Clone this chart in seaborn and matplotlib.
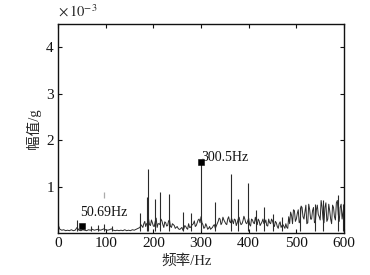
import numpy as np
import pandas as pd
import matplotlib
matplotlib.use("Agg")
import matplotlib.pyplot as plt
import seaborn as sns

# ---- data (amplitude in 1e-3 g) ----
base_freq = [0, 4, 8, 12, 16, 20, 24, 28, 32, 36, 40, 44, 48, 52, 56, 60, 64, 68, 72, 76,
             80, 84, 88, 92, 96, 100, 104, 108, 112, 116, 120, 124, 128, 132, 136, 140, 144, 148, 152, 156,
             160, 164, 168, 172, 176, 180, 184, 188, 192, 196, 200, 204, 208, 212, 216, 220, 224, 228, 232, 236,
             240, 244, 248, 252, 256, 260, 264, 268, 272, 276, 280, 284, 288, 292, 296, 300, 304, 308, 312, 316,
             320, 324, 328, 332, 336, 340, 344, 348, 352, 356, 360, 364, 368, 372, 376, 380, 384, 388, 392, 396,
             400, 404, 408, 412, 416, 420, 424, 428, 432, 436, 440, 444, 448, 452, 456, 460, 464, 468, 472, 476,
             480, 484, 488, 492, 496, 500, 504, 508, 512, 516, 520, 524, 528, 532, 536, 540, 544, 548, 552, 556,
             560, 564, 568, 572, 576, 580, 584, 588, 592, 596, 600]
base_amp = [0.18, 0.08, 0.06, 0.07, 0.05, 0.06, 0.05, 0.07, 0.05, 0.06, 0.12, 0.06, 0.05, 0.07, 0.06, 0.05, 0.07, 0.06, 0.08, 0.06,
            0.07, 0.08, 0.06, 0.07, 0.09, 0.07, 0.06, 0.07, 0.09, 0.06, 0.05, 0.06, 0.05, 0.06, 0.05, 0.07, 0.05, 0.06, 0.05, 0.07,
            0.06, 0.08, 0.10, 0.12, 0.15, 0.20, 0.14, 0.22, 0.18, 0.28, 0.15, 0.25, 0.12, 0.20, 0.30, 0.18, 0.24, 0.15, 0.26, 0.14,
            0.20, 0.16, 0.12, 0.10, 0.08, 0.12, 0.09, 0.14, 0.08, 0.12, 0.16, 0.20, 0.14, 0.22, 0.30, 0.35, 0.18, 0.12, 0.15, 0.10,
            0.08, 0.12, 0.18, 0.15, 0.25, 0.30, 0.22, 0.28, 0.20, 0.30, 0.25, 0.32, 0.20, 0.28, 0.22, 0.34, 0.18, 0.26, 0.30, 0.20,
            0.32, 0.15, 0.28, 0.20, 0.25, 0.30, 0.16, 0.24, 0.20, 0.28, 0.15, 0.22, 0.30, 0.18, 0.25, 0.14, 0.20, 0.12, 0.18, 0.10,
            0.12, 0.35, 0.45, 0.20, 0.48, 0.30, 0.50, 0.25, 0.55, 0.30, 0.60, 0.22, 0.50, 0.30, 0.55, 0.25, 0.60, 0.35, 0.70, 0.30,
            0.55, 0.25, 0.62, 0.30, 0.60, 0.35, 0.65, 0.40, 0.55, 0.30, 0.60]

mid_freq = [174, 178, 182, 186, 190, 194, 198, 202, 206, 210, 214, 218, 222, 226, 230, 234, 238, 242, 246, 250,
            254, 258, 262, 266, 270, 274, 278, 282, 286, 290, 294, 298,
            302, 306, 310, 314, 318, 322, 326, 330, 334, 338, 342, 346, 350, 354, 358, 362, 366, 370, 374, 378,
            382, 386, 390, 394, 398, 402, 406, 410, 414, 418, 422, 426, 430, 434, 438, 442, 446, 450, 454, 458,
            462, 466, 470, 474, 478, 482,
            486, 490, 494, 498, 502, 506, 510, 514, 518, 522, 526, 530, 534, 538, 542, 546, 550, 554, 558, 562,
            566, 570, 574, 578, 582, 586, 590, 594, 598]
mid_amp = [0.18, 0.12, 0.25, 0.20, 0.30, 0.16, 0.22, 0.14, 0.32, 0.20, 0.18, 0.26, 0.12, 0.22, 0.16, 0.28, 0.12, 0.18, 0.10, 0.14,
           0.08, 0.10, 0.06, 0.16, 0.10, 0.20, 0.12, 0.18, 0.26, 0.16, 0.28, 0.22,
           0.22, 0.10, 0.20, 0.08, 0.14, 0.10, 0.16, 0.10, 0.20, 0.32, 0.18, 0.34, 0.24, 0.18, 0.35, 0.22, 0.26, 0.30, 0.16, 0.30,
           0.24, 0.20, 0.36, 0.22, 0.26, 0.18, 0.30, 0.22, 0.34, 0.18, 0.26, 0.20, 0.30, 0.22, 0.16, 0.30, 0.20, 0.26, 0.14, 0.22,
           0.10, 0.24, 0.16, 0.14, 0.20, 0.10,
           0.20, 0.38, 0.50, 0.25, 0.42, 0.22, 0.58, 0.35, 0.45, 0.20, 0.62, 0.30, 0.48, 0.22, 0.50, 0.40, 0.28, 0.56, 0.22, 0.65,
           0.30, 0.48, 0.20, 0.55, 0.28, 0.70, 0.25, 0.62, 0.45]

peak_freq = [0, 40, 70, 83, 97, 113, 172, 186, 188, 203, 215, 232, 262, 280, 300.5,
             330, 362, 378, 398, 415, 432, 450, 470, 508, 540, 555, 588, 598]
peak_amp = [0.22, 0.27, 0.14, 0.18, 0.20, 0.16, 0.42, 0.78, 1.38, 0.73, 0.88, 0.83, 0.45, 0.42, 1.50,
            0.66, 1.28, 0.74, 1.07, 0.50, 0.55, 0.40, 0.35, 0.55, 0.62, 0.70, 0.82, 0.62]

ghost_freq = [97]
ghost_lo = [0.75]
ghost_hi = [0.88]

mark_freq = [50.69, 300.5]
mark_amp = [0.15, 1.52]
mark_labels = ["50.69Hz", "300.5Hz"]
label_x = [46, 301]
label_y = [0.45, 1.62]

xticks = [0, 100, 200, 300, 400, 500, 600]
yticks = [1, 2, 3, 4]

# ---- style ----
sns.set_style("ticks")
plt.rcParams["font.family"] = ["Liberation Serif", "Noto Sans CJK SC"]
plt.rcParams["mathtext.fontset"] = "stix"
plt.rcParams["xtick.direction"] = "in"
plt.rcParams["ytick.direction"] = "in"

fig = plt.figure(figsize=(3.7, 2.75), dpi=100)
ax = fig.add_axes([58 / 370, 1 - 233 / 275, (344 - 58) / 370, (233 - 24) / 275])

df = pd.concat([pd.DataFrame({"freq": base_freq, "amp": base_amp}),
                pd.DataFrame({"freq": mid_freq, "amp": mid_amp})]).sort_values("freq")
sns.lineplot(data=df, x="freq", y="amp", ax=ax, color="#2a2a2a", linewidth=0.7, sort=True)
ax.vlines(peak_freq, 0.05, peak_amp, color="#2a2a2a", linewidth=0.8)
ax.vlines(ghost_freq, ghost_lo, ghost_hi, color="#aaaaaa", linewidth=0.9)

sns.scatterplot(x=mark_freq, y=mark_amp, ax=ax, marker="s", color="black", s=22,
                edgecolor="black", zorder=5)
for lx, ly, t in zip(label_x, label_y, mark_labels):
    ax.text(lx, ly, t, fontsize=10, ha="left", va="center", color="#111111")

ax.set_xlim(0, 600)
ax.set_ylim(0, 4.5)
ax.set_xticks(xticks)
ax.set_yticks(yticks)
ax.tick_params(axis="both", labelsize=11, length=3, width=0.8, top=True, right=True,
               colors="#111111", pad=3)
for sp in ax.spines.values():
    sp.set_linewidth(1.0)
    sp.set_color("#111111")

ax.set_xlabel("频率/Hz", fontsize=10.5, labelpad=2)
ax.xaxis.set_label_coords(0.45, -0.1)
ax.set_ylabel("幅值/g", fontsize=10.5, labelpad=4)
ax.text(0.0, 1.02, r"$\times\,10^{-3}$", transform=ax.transAxes, fontsize=10.5,
        ha="left", va="bottom")

fig.savefig("out.png", dpi=100)
